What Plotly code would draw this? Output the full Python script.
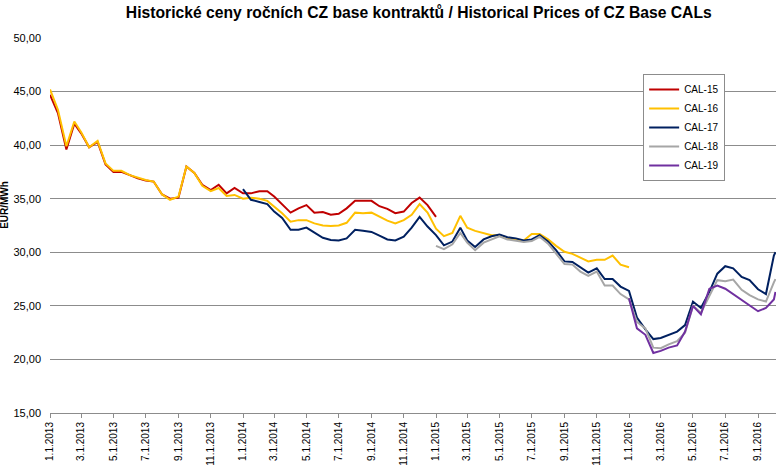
import plotly.graph_objects as go

DATES = [
    "2013-01-01", "2013-01-16", "2013-02-01", "2013-02-16", "2013-03-01", "2013-03-16",
    "2013-04-01", "2013-04-16", "2013-05-01", "2013-05-16", "2013-06-01", "2013-06-16",
    "2013-07-01", "2013-07-16", "2013-08-01", "2013-08-16", "2013-09-01", "2013-09-16",
    "2013-10-01", "2013-10-16", "2013-11-01", "2013-11-16", "2013-12-01", "2013-12-16",
    "2014-01-01", "2014-01-16", "2014-02-01", "2014-02-16", "2014-03-01", "2014-03-16",
    "2014-04-01", "2014-04-16", "2014-05-01", "2014-05-16", "2014-06-01", "2014-06-16",
    "2014-07-01", "2014-07-16", "2014-08-01", "2014-08-16", "2014-09-01", "2014-09-16",
    "2014-10-01", "2014-10-16", "2014-11-01", "2014-11-16", "2014-12-01", "2014-12-16",
    "2015-01-01", "2015-01-16", "2015-02-01", "2015-02-16", "2015-03-01", "2015-03-16",
    "2015-04-01", "2015-04-16", "2015-05-01", "2015-05-16", "2015-06-01", "2015-06-16",
    "2015-07-01", "2015-07-16", "2015-08-01", "2015-08-16", "2015-09-01", "2015-09-16",
    "2015-10-01", "2015-10-16", "2015-11-01", "2015-11-16", "2015-12-01", "2015-12-16",
    "2016-01-01", "2016-01-16", "2016-02-01", "2016-02-16", "2016-03-01", "2016-03-16",
    "2016-04-01", "2016-04-16", "2016-05-01", "2016-05-16", "2016-06-01", "2016-06-16",
    "2016-07-01", "2016-07-16", "2016-08-01", "2016-08-16", "2016-09-01", "2016-09-16",
    "2016-10-01", "2016-10-04",
]

N = None
CAL15 = [
    44.7, 43.0, 39.6, 42.0, 41.1, 39.8, 40.3, 38.2, 37.5, 37.5, 37.2, 36.9,
    36.7, 36.6, 35.4, 35.0, 35.1, 38.0, 37.4, 36.3, 35.8, 36.3, 35.5, 36.0,
    35.5, 35.5, 35.7, 35.7, 35.2, 34.5, 33.7, 34.1, 34.4, 33.7, 33.75, 33.5,
    33.6, 34.1, 34.8, 34.8, 34.8, 34.3, 34.05, 33.65, 33.8, 34.6, 35.1, 34.4,
    33.3, N, N, N, N, N, N, N, N, N, N, N,
    N, N, N, N, N, N, N, N, N, N, N, N,
    N, N, N, N, N, N, N, N, N, N, N, N,
    N, N, N, N, N, N, N, N,
]
CAL16 = [
    45.2, 43.3, 39.9, 42.2, 41.2, 39.8, 40.4, 38.3, 37.6, 37.6, 37.2, 36.95,
    36.75, 36.6, 35.4, 34.9, 35.2, 38.0, 37.4, 36.2, 35.7, 36.0, 35.25, 35.35,
    35.0, 35.1, 35.0, 34.8, 34.3, 33.65, 32.85, 33.0, 33.0, 32.7, 32.5, 32.45,
    32.5, 32.75, 33.7, 33.65, 33.7, 33.3, 32.95, 32.7, 33.0, 33.5, 34.5, 33.7,
    32.2, 31.5, 31.8, 33.4, 32.3, 32.0, 31.8, 31.6, 31.6, 31.35, 31.2, 31.1,
    31.7, 31.7, 31.2, 30.6, 30.05, 29.85, 29.5, 29.15, 29.3, 29.3, 29.7, 28.85,
    28.6, N, N, N, N, N, N, N, N, N, N, N,
    N, N, N, N, N, N, N, N,
]
CAL17 = [
    N, N, N, N, N, N, N, N, N, N, N, N,
    N, N, N, N, N, N, N, N, N, N, N, N,
    35.9, 34.9, 34.7, 34.5, 33.8, 33.2, 32.1, 32.1, 32.3, 31.8, 31.35, 31.15,
    31.1, 31.3, 32.1, 32.0, 31.9, 31.55, 31.2, 31.1, 31.45, 32.3, 33.3, 32.4,
    31.6, 30.65, 31.0, 32.3, 31.1, 30.5, 31.2, 31.5, 31.65, 31.4, 31.3, 31.1,
    31.2, 31.6, 31.0, 30.2, 29.15, 29.1, 28.6, 28.1, 28.5, 27.5, 27.5, 26.8,
    26.4, 23.9, 22.8, 21.9, 22.0, 22.3, 22.6, 23.2, 25.4, 24.8, 26.3, 28.0,
    28.7, 28.5, 27.7, 27.4, 26.55, 26.1, 29.7, 30.0,
]
CAL18 = [
    N, N, N, N, N, N, N, N, N, N, N, N,
    N, N, N, N, N, N, N, N, N, N, N, N,
    N, N, N, N, N, N, N, N, N, N, N, N,
    N, N, N, N, N, N, N, N, N, N, N, N,
    30.6, 30.3, 30.75, 31.8, 30.9, 30.2, 30.9, 31.2, 31.5, 31.2, 31.05, 30.95,
    31.05, 31.45, 30.8, 29.9, 28.9, 28.85, 28.2, 27.8, 28.2, 26.9, 26.9, 26.1,
    25.6, 23.5, 22.9, 21.1, 21.05, 21.4, 21.7, 22.5, 25.0, 24.35, 26.0, 27.4,
    27.3, 27.45, 26.5, 26.0, 25.6, 25.4, 27.2, 27.5,
]
CAL19 = [
    N, N, N, N, N, N, N, N, N, N, N, N,
    N, N, N, N, N, N, N, N, N, N, N, N,
    N, N, N, N, N, N, N, N, N, N, N, N,
    N, N, N, N, N, N, N, N, N, N, N, N,
    N, N, N, N, N, N, N, N, N, N, N, N,
    N, N, N, N, N, N, N, N, N, N, N, N,
    25.7, 22.9, 22.3, 20.6, 20.8, 21.1, 21.3, 22.6, 25.0, 24.2, 26.6, 26.9,
    26.6, 26.1, 25.5, 25.0, 24.5, 24.8, 25.6, 26.3,
]

SERIES_NAMES = ["CAL-15", "CAL-16", "CAL-17", "CAL-18", "CAL-19"]
SERIES_VALUES = [CAL15, CAL16, CAL17, CAL18, CAL19]
COLORS = ["#C00000", "#FFC000", "#002060", "#A6A6A6", "#7030A0"]

TICK_DATES = [
    "2013-01-01", "2013-03-01", "2013-05-01", "2013-07-01", "2013-09-01", "2013-11-01",
    "2014-01-01", "2014-03-01", "2014-05-01", "2014-07-01", "2014-09-01", "2014-11-01",
    "2015-01-01", "2015-03-01", "2015-05-01", "2015-07-01", "2015-09-01", "2015-11-01",
    "2016-01-01", "2016-03-01", "2016-05-01", "2016-07-01", "2016-09-01",
]
TICK_TEXT = [
    "1.1.2013", "3.1.2013", "5.1.2013", "7.1.2013", "9.1.2013", "11.1.2013",
    "1.1.2014", "3.1.2014", "5.1.2014", "7.1.2014", "9.1.2014", "11.1.2014",
    "1.1.2015", "3.1.2015", "5.1.2015", "7.1.2015", "9.1.2015", "11.1.2015",
    "1.1.2016", "3.1.2016", "5.1.2016", "7.1.2016", "9.1.2016",
]

TITLE = "Historické ceny ročních CZ base kontraktů / Historical Prices of CZ Base CALs"
Y_TITLE = "EUR/MWh"

FONT = "Arial, Liberation Sans, sans-serif"

fig = go.Figure()
for name, vals, color in zip(SERIES_NAMES, SERIES_VALUES, COLORS):
    fig.add_trace(go.Scatter(
        x=DATES, y=vals, mode="lines", name=name,
        line=dict(color=color, width=2), connectgaps=False,
    ))

fig.update_layout(
    width=777, height=466,
    margin=dict(l=50, r=1, t=38, b=53, autoexpand=False),
    paper_bgcolor="white", plot_bgcolor="white",
    separators=", ",
    font=dict(family=FONT, color="#000000", size=11),
    title=dict(
        text="<b>" + TITLE + "</b>",
        font=dict(family=FONT, size=15.7, color="#000000"),
        x=0.539, xref="container", xanchor="center",
        y=0.974, yref="container", yanchor="middle",
    ),
    showlegend=True,
    legend=dict(
        x=0.817, y=0.904, xanchor="left", yanchor="top",
        bgcolor="white", bordercolor="#8c8c8c", borderwidth=1,
        font=dict(family=FONT, size=10, color="#000000"),
        itemwidth=30, tracegroupgap=0,
    ),
    xaxis=dict(
        type="date",
        range=["2013-01-01", "2016-10-05"],
        tickmode="array", tickvals=TICK_DATES, ticktext=TICK_TEXT,
        tickangle=-90,
        tickfont=dict(family=FONT, size=10, color="#000000"),
        ticks="outside", ticklen=4, tickcolor="#8c8c8c", tickwidth=1,
        showline=True, linecolor="#8c8c8c", linewidth=1,
        showgrid=False, zeroline=False, automargin=False,
    ),
    yaxis=dict(
        range=[15, 50], dtick=5, tick0=15, tickformat=".2f",
        tickfont=dict(family=FONT, size=11, color="#000000"),
        showgrid=True, gridcolor="#8c8c8c", gridwidth=1,
        showline=False, zeroline=False, ticks="",
        ticklabelstandoff=8, automargin=False,
    ),
    annotations=[dict(
        text="<b>" + Y_TITLE + "</b>",
        xref="paper", yref="paper", x=-0.062, y=0.555,
        xanchor="center", yanchor="middle", textangle=-90,
        showarrow=False, font=dict(family=FONT, size=10, color="#000000"),
    )],
)

fig.write_html(
    "out.html",
    config={"displayModeBar": False},
    post_script="document.body.style.margin='0';document.body.style.padding='0';",
)
